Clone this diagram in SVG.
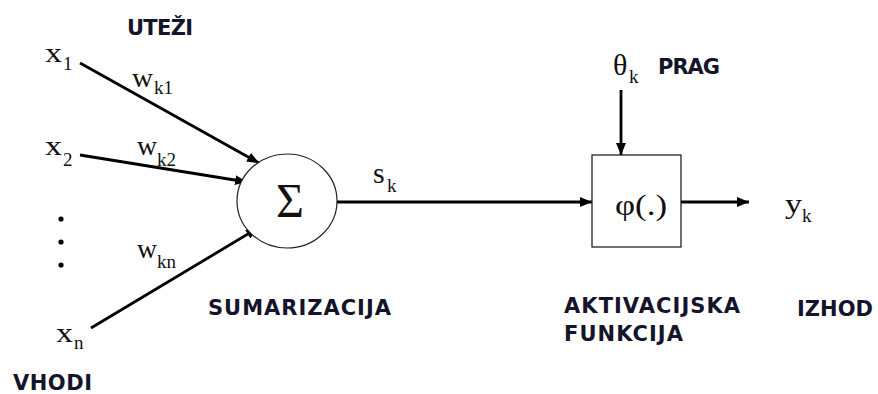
<svg xmlns="http://www.w3.org/2000/svg" width="878" height="394" viewBox="0 0 878 394">
<defs>
<style>
.lbl{font-family:"DejaVu Sans","Verdana",sans-serif;font-weight:bold;font-size:21px;fill:#14142a}
.m{font-family:"Liberation Serif","Times New Roman",serif;font-size:27px;fill:#111}
.s{font-family:"Liberation Serif","Times New Roman",serif;font-size:19px;fill:#111}
.conn{stroke:#000;stroke-width:2.8;fill:none;marker-end:url(#ah)}
</style>
<marker id="ah" markerUnits="userSpaceOnUse" markerWidth="12" markerHeight="10" refX="12" refY="5" orient="auto">
<path d="M0,0 L12,5 L0,10 z" fill="#000"/>
</marker>
</defs>
<rect width="878" height="394" fill="#fff"/>

<g id="connectors">
<line class="conn" x1="80" y1="63" x2="259" y2="163"/>
<line class="conn" x1="80" y1="155" x2="247" y2="182"/>
<line class="conn" x1="91" y1="328" x2="258" y2="228"/>
<line class="conn" x1="337" y1="202" x2="592" y2="202"/>
<line class="conn" x1="621" y1="90" x2="621" y2="155"/>
<line class="conn" x1="681" y1="202" x2="749" y2="202"/>
</g>

<g id="input-x1">
<text class="m" x="45" y="62" textLength="17" lengthAdjust="spacingAndGlyphs">x</text><text class="s" x="63" y="70">1</text>
</g>
<g id="input-x2">
<text class="m" x="45" y="155" textLength="17" lengthAdjust="spacingAndGlyphs">x</text><text class="s" x="63" y="166">2</text>
</g>
<g id="input-dots">
<circle cx="61" cy="219" r="2.6" fill="#000"/>
<circle cx="61" cy="242" r="2.6" fill="#000"/>
<circle cx="61" cy="265" r="2.6" fill="#000"/>
</g>
<g id="input-xn">
<text class="m" x="56" y="342" textLength="17" lengthAdjust="spacingAndGlyphs">x</text><text class="s" x="74" y="349">n</text>
</g>

<g id="weights">
<text class="m" x="132" y="87" textLength="21" lengthAdjust="spacingAndGlyphs">w</text><text class="s" x="154" y="94">k1</text>
<text class="m" x="137" y="155" textLength="20" lengthAdjust="spacingAndGlyphs">w</text><text class="s" x="157" y="166">k2</text>
<text class="m" x="137" y="258" textLength="20" lengthAdjust="spacingAndGlyphs">w</text><text class="s" x="157" y="268">kn</text>
</g>

<g id="sum">
<ellipse cx="287" cy="201" rx="50" ry="47" fill="#fff" stroke="#222" stroke-width="1.2"/>
<text x="290" y="217" text-anchor="middle" font-family="Liberation Serif, serif" font-size="48" fill="#111">Σ</text>
</g>

<g id="sk-label">
<text x="373" y="183" font-family="Liberation Serif, serif" font-size="30" fill="#111">s</text><text class="s" x="387" y="192">k</text>
</g>

<g id="threshold">
<text x="613" y="75" font-family="Liberation Serif, serif" font-size="30" fill="#111">θ</text><text class="s" x="629" y="83">k</text>
</g>

<g id="activation">
<rect x="592" y="155" width="89" height="92" fill="#fff" stroke="#222" stroke-width="1.3"/>
<text x="615" y="215" font-family="Liberation Serif, serif" font-size="30" fill="#111" textLength="52" lengthAdjust="spacingAndGlyphs">φ(.)</text>
</g>

<g id="output">
<text class="m" x="785" y="213" textLength="17" lengthAdjust="spacingAndGlyphs">y</text><text class="s" x="802" y="222">k</text>
</g>

<g id="labels">
<text class="lbl" x="127" y="35" textLength="66">UTEŽI</text>
<text class="lbl" x="13" y="390" textLength="79">VHODI</text>
<text class="lbl" x="208" y="315" textLength="183">SUMARIZACIJA</text>
<text class="lbl" x="658" y="74" textLength="62">PRAG</text>
<text class="lbl" x="564" y="313" textLength="176">AKTIVACIJSKA</text>
<text class="lbl" x="564" y="341" textLength="119">FUNKCIJA</text>
<text class="lbl" x="797" y="316" textLength="76">IZHOD</text>
</g>
</svg>
